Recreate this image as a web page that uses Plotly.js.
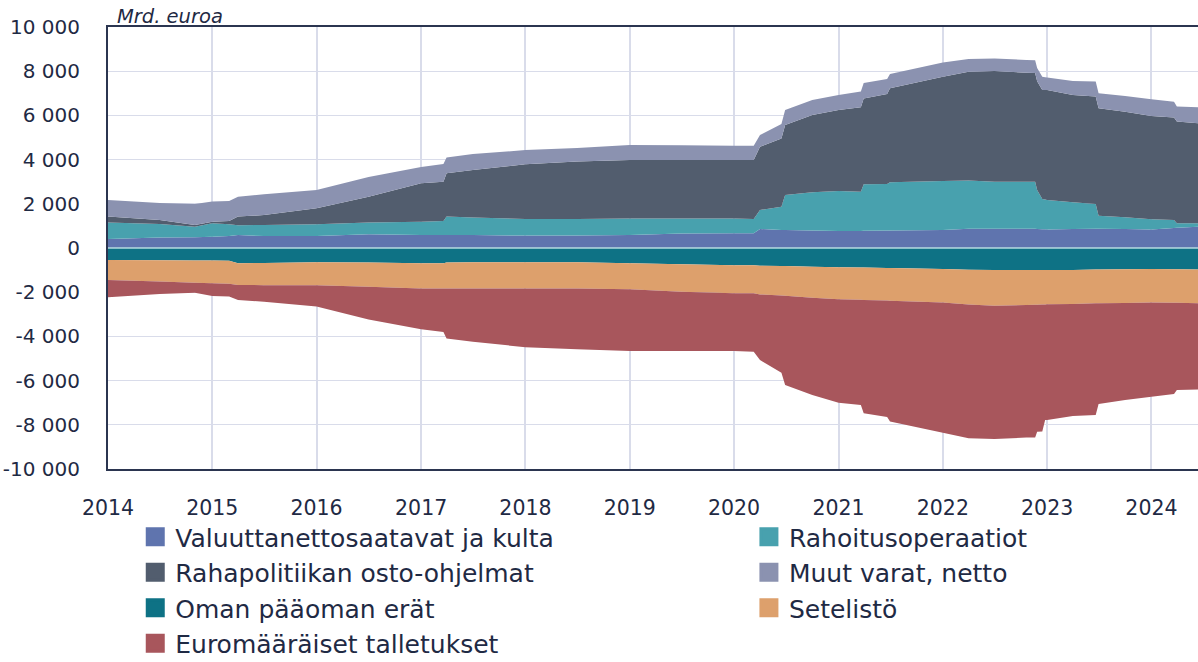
<!DOCTYPE html>
<html>
<head>
<meta charset="utf-8">
<script src="https://cdn.plot.ly/plotly-3.0.1.min.js"></script>
<style>html,body{margin:0;padding:0;background:#fff;}#chart{width:1198px;height:662px;}</style>
</head>
<body>
<div id="chart"></div>
<script>
const dates = ['2014-01-01','2014-07-01','2014-11-01','2015-01-01','2015-03-01','2015-04-01','2015-07-01',
'2016-01-01','2016-07-01','2017-01-01','2017-03-20','2017-03-31','2017-07-01','2018-01-01','2018-07-01',
'2019-01-01','2019-07-01','2020-01-01','2020-03-10','2020-04-01','2020-06-15','2020-06-28','2020-10-01',
'2021-01-01','2021-03-20','2021-03-30','2021-06-20','2021-06-30','2022-01-01','2022-04-01','2022-07-01',
'2022-10-20','2022-11-20','2022-11-27','2022-12-15','2022-12-25','2023-01-01','2023-04-01','2023-06-20',
'2023-06-30','2023-10-01','2024-01-01','2024-03-20','2024-03-30','2024-06-14'];

const valuutta = [410,470,490,510,540,590,540,540,620,590,590,590,590,560,560,590,660,670,670,860,810,810,790,
770,770,780,790,790,810,870,870,870,870,860,850,845,840,860,870,870,860,840,900,920,960];
const rahoitus = [740,620,470,610,530,440,500,530,530,600,630,830,790,750,750,750,680,670,640,860,1060,1590,1730,
1810,1780,2100,2110,2180,2220,2180,2130,2130,2130,1760,1370,1355,1330,1210,1120,590,530,460,370,200,160];
const osto = [270,180,80,70,150,390,450,730,1170,1740,1780,1960,2150,2480,2600,2640,2640,2640,2670,2860,3090,3170,3500,
3660,3820,3890,4070,4260,4720,4930,5010,4930,4920,4930,4930,4950,4980,4850,4860,4860,4780,4670,4640,4600,4520];
const muut = [750,770,950,910,910,900,940,820,890,740,800,710,720,640,620,680,670,650,650,530,650,670,680,
680,710,700,680,640,640,570,570,580,580,600,600,580,570,640,680,680,710,760,710,680,730];
const oman = [-540,-550,-560,-570,-580,-690,-680,-640,-660,-690,-690,-660,-650,-650,-650,-690,-740,-780,-780,-800,-820,-820,-850,
-870,-880,-880,-900,-900,-950,-980,-1000,-1000,-1000,-1000,-1000,-1000,-1000,-990,-970,-970,-960,-950,-960,-960,-970];
const setelisto = [-910,-970,-1010,-1030,-1040,-980,-1000,-1040,-1090,-1140,-1140,-1170,-1180,-1180,-1180,-1180,-1240,-1270,-1270,-1300,-1330,-1340,-1400,
-1450,-1460,-1470,-1480,-1490,-1520,-1580,-1610,-1580,-1570,-1570,-1560,-1560,-1550,-1540,-1530,-1530,-1530,-1520,-1520,-1520,-1530];
const talletukset = [-780,-560,-460,-570,-580,-680,-750,-970,-1480,-1850,-1970,-2260,-2410,-2660,-2750,-2790,-2680,-2610,-2640,-2970,-3490,-4040,-4400,
-4680,-4760,-5130,-5270,-5460,-5890,-6050,-6030,-6000,-6000,-5740,-5740,-5220,-5230,-5070,-5060,-4560,-4390,-4260,-4130,-3950,-3900];

const names = {
  valuutta: 'Valuuttanettosaatavat ja kulta',
  rahoitus: 'Rahoitusoperaatiot',
  osto: 'Rahapolitiikan osto-ohjelmat',
  muut: 'Muut varat, netto',
  oman: 'Oman pääoman erät',
  setelisto: 'Setelistö',
  talletukset: 'Euromääräiset talletukset'
};
const colors = {
  valuutta: '#5f74ae', rahoitus: '#48a1ae', osto: '#525d6e', muut: '#8b92b0',
  oman: '#0e7285', setelisto: '#dda06c', talletukset: '#a8565c'
};
const yTicks = [-10000,-8000,-6000,-4000,-2000,0,2000,4000,6000,8000,10000];
const yTickText = ['-10 000','-8 000','-6 000','-4 000','-2 000','0','2 000','4 000','6 000','8 000','10 000'];

function area(key, vals, group) {
  return {x: dates, y: vals, type: 'scatter', mode: 'none', stackgroup: group,
    fillcolor: colors[key], line: {width: 0}, name: names[key], showlegend: false, hoverinfo: 'x+y+name'};
}
function leg(key, legendId) {
  return {x: [null], y: [null], type: 'scatter', mode: 'markers', name: names[key], legend: legendId,
    marker: {symbol: 'square', size: 16, color: colors[key], line: {width: 3, color: colors[key]}}};
}

const traces = [
  area('valuutta', valuutta, 'pos'), area('rahoitus', rahoitus, 'pos'),
  area('osto', osto, 'pos'), area('muut', muut, 'pos'),
  area('oman', oman, 'neg'), area('setelisto', setelisto, 'neg'), area('talletukset', talletukset, 'neg'),
  leg('valuutta','legend'), leg('osto','legend'), leg('oman','legend'), leg('talletukset','legend'),
  leg('rahoitus','legend2'), leg('muut','legend2'), leg('setelisto','legend2')
];

const txt = '#1f2a44';
const fam = '"DejaVu Sans", sans-serif';
const legFont = {family: fam, size: 25, color: txt};
const legTop = (662 - 514) / 662;
const layout = {
  width: 1198, height: 662,
  margin: {l: 108, r: 0, t: 27, b: 193, autoexpand: false},
  paper_bgcolor: '#ffffff', plot_bgcolor: '#ffffff',
  font: {family: fam, color: txt},
  xaxis: {
    type: 'date', range: ['2014-01-01', '2024-06-12'],
    tickformat: '%Y', dtick: 'M12', tick0: '2014-01-01',
    showgrid: true, gridcolor: '#d9dcea', gridwidth: 2,
    showline: true, linecolor: '#2b3550', linewidth: 2, mirror: true,
    ticks: '', tickfont: {size: 20.5, color: txt}, ticklabelstandoff: 19
  },
  yaxis: {
    range: [-10000, 10000], tickvals: yTicks, ticktext: yTickText,
    showgrid: true, gridcolor: '#d9dcea', gridwidth: 1,
    zeroline: false,
    showline: true, linecolor: '#2b3550', linewidth: 2, mirror: true,
    ticks: '', tickfont: {size: 20, color: txt}, ticklabelstandoff: 22
  },
  showlegend: true,
  legend: {x: 0.025, xanchor: 'left', y: legTop, yref: 'container', yanchor: 'top', orientation: 'v',
    traceorder: 'normal', font: legFont, bgcolor: 'rgba(0,0,0,0)', tracegroupgap: 0, itemclick: false},
  legend2: {x: 0.588, xanchor: 'left', y: legTop, yref: 'container', yanchor: 'top', orientation: 'v',
    traceorder: 'normal', font: legFont, bgcolor: 'rgba(0,0,0,0)', tracegroupgap: 0, itemclick: false},
  shapes: [{type: 'line', xref: 'paper', x0: 0, x1: 1, yref: 'y', y0: 0, y1: 0,
    line: {color: '#b5dbe0', width: 1.5}, layer: 'above'}],
  annotations: [{
    text: '<i>Mrd. euroa</i>', xref: 'paper', yref: 'paper', x: 0.006, y: 1, xanchor: 'left', yanchor: 'bottom',
    showarrow: false, font: {size: 19.5, color: txt}, yshift: -3
  }]
};
Plotly.newPlot('chart', traces, layout, {displayModeBar: false, staticPlot: true});
</script>
</body>
</html>
